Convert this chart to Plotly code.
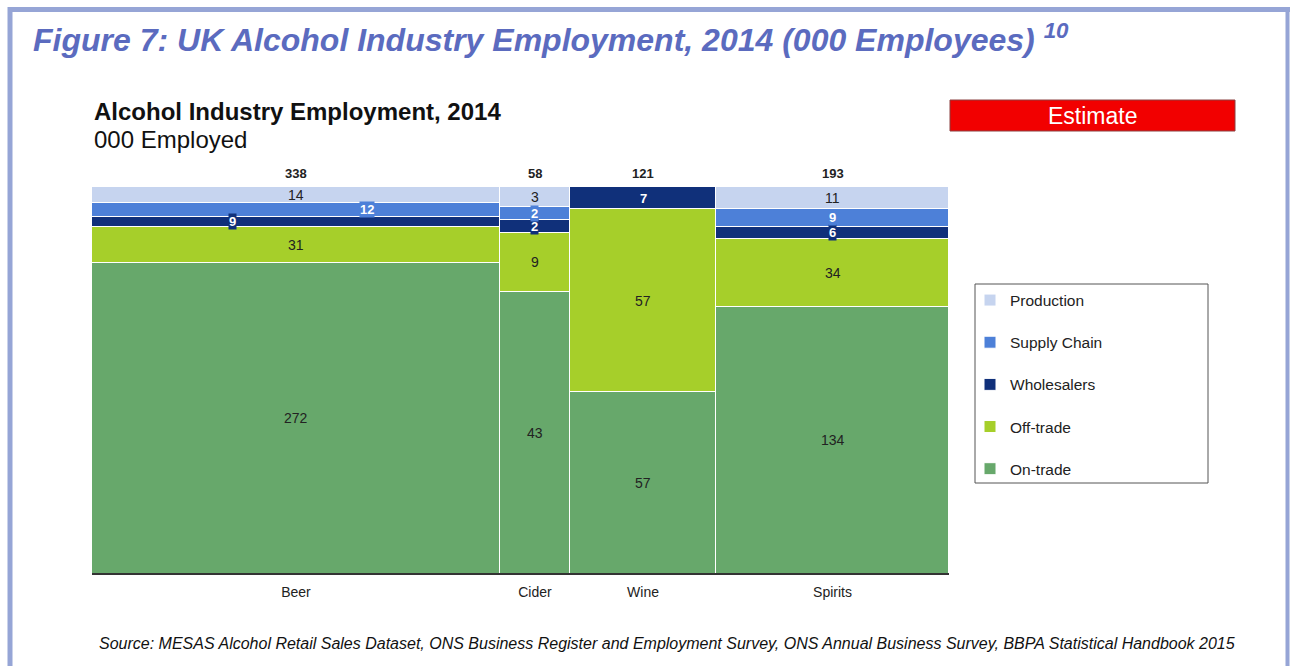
import plotly.graph_objects as go

categories = ["Beer", "Cider", "Wine", "Spirits"]
totals = [338, 58, 121, 193]
segments = ["On-trade", "Off-trade", "Wholesalers", "Supply Chain", "Production"]
on_trade = [272, 43, 57, 134]
off_trade = [31, 9, 57, 34]
wholesalers = [9, 2, 7, 6]
supply_chain = [12, 2, 0, 9]
production = [14, 3, 0, 11]

series = [on_trade, off_trade, wholesalers, supply_chain, production]
colors = ["#67a86b", "#a6cf2a", "#10307a", "#4d80d8", "#c6d4ef"]
label_font_colors = ["#222222", "#222222", "#ffffff", "#ffffff", "#222222"]
label_boxed = [False, False, True, True, False]
legend_ranks = [5, 4, 3, 2, 1]
# horizontal label stagger (fraction of column width) for thin segments in the widest column
stagger = {("Wholesalers", 0): -0.155, ("Supply Chain", 0): 0.175}

# column geometry from totals
lefts = []
acc = 0
for t in totals:
    lefts.append(acc)
    acc += t
centers = [l + t / 2 for l, t in zip(lefts, totals)]
col_sums = [sum(s[i] for s in series) for i in range(len(categories))]

fig = go.Figure()
for name, vals, col, rk in zip(segments, series, colors, legend_ranks):
    fig.add_trace(go.Bar(
        name=name, x=centers, y=[v / cs for v, cs in zip(vals, col_sums)],
        width=totals, marker=dict(color=col, line=dict(color="#ffffff", width=1)),
        legendgroup=name, legendrank=rk, hoverinfo="skip",
    ))

annotations = []
for i in range(len(categories)):
    base = 0
    for k, (name, vals) in enumerate(zip(segments, series)):
        v = vals[i]
        frac = v / col_sums[i]
        if v > 0:
            xpos = centers[i] + stagger.get((name, i), 0) * totals[i]
            annotations.append(dict(
                x=xpos, y=base + frac / 2, xref="x", yref="y",
                text="<b>%d</b>" % v if label_boxed[k] else str(v),
                showarrow=False,
                font=dict(family="Arial", size=13 if label_boxed[k] else 14,
                          color=label_font_colors[k]),
                bgcolor=colors[k] if label_boxed[k] else None,
                borderpad=0,
            ))
        base += frac
    annotations.append(dict(
        x=centers[i], y=1, xref="x", yref="y", yanchor="bottom", yshift=4,
        text="<b>%d</b>" % totals[i], showarrow=False,
        font=dict(family="Arial", size=13, color="#222222"),
    ))

L, R, T, B = 92, 949, 187, 574
W, H = 1290, 666
pw, ph = R - L, B - T
def px(xp):
    return (xp - L) / pw
def py(yp):
    return (B - yp) / ph

annotations += [
    dict(xref="paper", yref="paper", x=px(31), y=py(38), xanchor="left", yanchor="middle",
         text="<b><i>Figure 7: UK Alcohol Industry Employment, 2014 (000 Employees) <sup>10</sup></i></b>",
         showarrow=False, font=dict(family="Arial", size=32, color="#5b6bbf")),
    dict(xref="paper", yref="paper", x=px(92), y=py(111), xanchor="left", yanchor="middle",
         text="<b>Alcohol Industry Employment, 2014</b>", showarrow=False,
         font=dict(family="Arial", size=24, color="#111111")),
    dict(xref="paper", yref="paper", x=px(92), y=py(139), xanchor="left", yanchor="middle",
         text="000 Employed", showarrow=False,
         font=dict(family="Arial", size=24, color="#111111")),
    dict(xref="paper", yref="paper", x=px(1092), y=py(116), xanchor="center", yanchor="middle",
         text="Estimate", showarrow=False,
         font=dict(family="Arial", size=23, color="#ffffff")),
    dict(xref="paper", yref="paper", x=px(667), y=py(643), xanchor="center", yanchor="middle",
         text="<i>Source: MESAS Alcohol Retail Sales Dataset, ONS Business Register and Employment Survey, ONS Annual Business Survey, BBPA Statistical Handbook 2015</i>",
         showarrow=False, font=dict(family="Arial", size=16, color="#111111")),
]

shapes = [
    # outer frame
    dict(type="line", xref="paper", yref="paper", x0=px(10), x1=px(10), y0=py(7), y1=py(680),
         line=dict(color="#96a5d6", width=5)),
    dict(type="line", xref="paper", yref="paper", x0=px(8), x1=px(1290), y0=py(9.5), y1=py(9.5),
         line=dict(color="#96a5d6", width=5)),
    dict(type="line", xref="paper", yref="paper", x0=px(1287.5), x1=px(1287.5), y0=py(7), y1=py(680),
         line=dict(color="#96a5d6", width=4)),
    # estimate box
    dict(type="rect", xref="paper", yref="paper", x0=px(950), x1=px(1235), y0=py(100), y1=py(131),
         fillcolor="#f20000", line=dict(color="#8a4040", width=1)),
    # legend frame
    dict(type="rect", xref="paper", yref="paper", x0=px(975), x1=px(1208), y0=py(284), y1=py(483),
         fillcolor="rgba(0,0,0,0)", line=dict(color="#555555", width=1)),
    # baseline
    dict(type="line", xref="paper", yref="paper", x0=0, x1=1, y0=0, y1=0,
         line=dict(color="#333333", width=2)),
]

fig.update_layout(
    width=W, height=H,
    margin=dict(l=L, r=W - R, t=T, b=H - B),
    paper_bgcolor="#ffffff", plot_bgcolor="#ffffff",
    barmode="stack", bargap=0,
    showlegend=True,
    legend=dict(
        x=px(970), y=py(283.5), xanchor="left", yanchor="top",
        borderwidth=0, bgcolor="rgba(0,0,0,0)",
        traceorder="grouped", tracegroupgap=19,
        font=dict(family="Arial", size=15.5, color="#222222"),
        itemwidth=30,
    ),
    xaxis=dict(range=[0, sum(totals)], tickvals=centers, ticktext=categories,
               showgrid=False, zeroline=False, showline=False, ticks="",
               ticklabelstandoff=8,
               tickfont=dict(family="Arial", size=14, color="#222222"), fixedrange=True),
    yaxis=dict(range=[0, 1], showgrid=False, zeroline=False, showticklabels=False,
               showline=False, ticks="", fixedrange=True),
    annotations=annotations,
    shapes=shapes,
)

fig.write_html("out.html", config={"displayModeBar": False},
               post_script="document.body.style.margin='0';document.body.style.overflow='hidden';")
